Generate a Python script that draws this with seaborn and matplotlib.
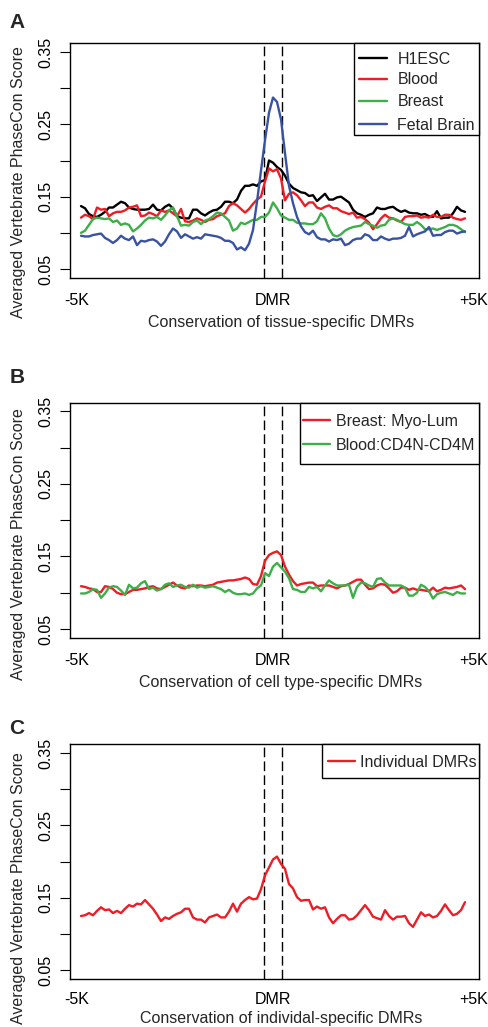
import numpy as np
import pandas as pd
import matplotlib
matplotlib.use("Agg")
import matplotlib.pyplot as plt
import seaborn as sns
from matplotlib.lines import Line2D
from matplotlib.patches import Rectangle

# ---------------- data (97 bins: -5K .. DMR .. +5K) ----------------
h1esc = [0.137, 0.134, 0.126, 0.123, 0.122, 0.125, 0.129, 0.135, 0.135, 0.139,
         0.143, 0.141, 0.135, 0.133, 0.132, 0.132, 0.132, 0.133, 0.139, 0.132,
         0.131, 0.136, 0.139, 0.134, 0.123, 0.121, 0.120, 0.120, 0.132, 0.132,
         0.127, 0.124, 0.128, 0.131, 0.132, 0.136, 0.143, 0.143, 0.141, 0.146,
         0.158, 0.165, 0.165, 0.167, 0.165, 0.171, 0.173, 0.200, 0.197, 0.191,
         0.187, 0.179, 0.168, 0.162, 0.159, 0.156, 0.155, 0.151, 0.152, 0.144,
         0.149, 0.154, 0.146, 0.146, 0.149, 0.150, 0.146, 0.142, 0.132, 0.127,
         0.125, 0.122, 0.125, 0.127, 0.135, 0.133, 0.133, 0.135, 0.136, 0.132,
         0.129, 0.131, 0.128, 0.127, 0.127, 0.125, 0.126, 0.123, 0.122, 0.130,
         0.120, 0.121, 0.121, 0.127, 0.136, 0.131, 0.129]
blood = [0.121, 0.125, 0.123, 0.119, 0.135, 0.132, 0.133, 0.123, 0.127, 0.129,
         0.129, 0.131, 0.135, 0.136, 0.138, 0.123, 0.124, 0.128, 0.126, 0.123,
         0.131, 0.129, 0.131, 0.127, 0.123, 0.133, 0.116, 0.115, 0.117, 0.120,
         0.118, 0.115, 0.118, 0.119, 0.123, 0.125, 0.127, 0.137, 0.141, 0.138,
         0.133, 0.128, 0.133, 0.140, 0.146, 0.150, 0.171, 0.189, 0.185, 0.188,
         0.175, 0.145, 0.154, 0.156, 0.152, 0.145, 0.137, 0.142, 0.142, 0.135,
         0.133, 0.136, 0.138, 0.134, 0.134, 0.130, 0.128, 0.126, 0.128, 0.121,
         0.122, 0.119, 0.114, 0.105, 0.112, 0.120, 0.125, 0.121, 0.120, 0.117,
         0.115, 0.122, 0.123, 0.123, 0.124, 0.121, 0.122, 0.121, 0.125, 0.122,
         0.122, 0.125, 0.125, 0.121, 0.119, 0.118, 0.120]
breast = [0.100, 0.103, 0.111, 0.119, 0.121, 0.120, 0.119, 0.120, 0.115, 0.117,
          0.111, 0.113, 0.111, 0.102, 0.106, 0.111, 0.117, 0.121, 0.120, 0.122,
          0.118, 0.124, 0.131, 0.135, 0.123, 0.110, 0.111, 0.110, 0.115, 0.117,
          0.112, 0.117, 0.119, 0.123, 0.128, 0.127, 0.122, 0.117, 0.103, 0.106,
          0.114, 0.112, 0.115, 0.118, 0.118, 0.122, 0.122, 0.128, 0.142, 0.134,
          0.124, 0.121, 0.118, 0.118, 0.114, 0.113, 0.113, 0.112, 0.112, 0.116,
          0.127, 0.120, 0.106, 0.097, 0.095, 0.098, 0.103, 0.106, 0.108, 0.109,
          0.110, 0.115, 0.112, 0.110, 0.107, 0.110, 0.111, 0.118, 0.120, 0.118,
          0.115, 0.112, 0.111, 0.111, 0.115, 0.111, 0.105, 0.105, 0.106, 0.104,
          0.106, 0.108, 0.111, 0.111, 0.109, 0.105, 0.101]
fetal_brain = [0.096, 0.095, 0.095, 0.097, 0.098, 0.099, 0.093, 0.090, 0.086, 0.090,
               0.096, 0.092, 0.090, 0.095, 0.083, 0.089, 0.088, 0.090, 0.091, 0.088,
               0.082, 0.088, 0.098, 0.106, 0.102, 0.093, 0.098, 0.095, 0.092, 0.094,
               0.092, 0.098, 0.097, 0.096, 0.095, 0.093, 0.089, 0.089, 0.086, 0.077,
               0.080, 0.076, 0.085, 0.104, 0.143, 0.186, 0.228, 0.266, 0.287, 0.281,
               0.257, 0.210, 0.165, 0.141, 0.122, 0.109, 0.101, 0.098, 0.103, 0.094,
               0.091, 0.091, 0.088, 0.091, 0.090, 0.092, 0.083, 0.085, 0.090, 0.092,
               0.092, 0.098, 0.096, 0.090, 0.090, 0.095, 0.092, 0.090, 0.092, 0.092,
               0.093, 0.096, 0.108, 0.095, 0.098, 0.100, 0.102, 0.108, 0.096, 0.097,
               0.097, 0.101, 0.103, 0.103, 0.099, 0.101, 0.102]
myo_lum = [0.109, 0.108, 0.106, 0.105, 0.101, 0.101, 0.109, 0.108, 0.105, 0.100,
           0.098, 0.098, 0.101, 0.104, 0.104, 0.105, 0.106, 0.108, 0.109, 0.106,
           0.105, 0.108, 0.111, 0.114, 0.110, 0.107, 0.106, 0.110, 0.109, 0.110,
           0.110, 0.109, 0.110, 0.111, 0.114, 0.115, 0.116, 0.117, 0.117, 0.118,
           0.119, 0.121, 0.119, 0.112, 0.111, 0.123, 0.144, 0.152, 0.155, 0.157,
           0.152, 0.136, 0.125, 0.116, 0.110, 0.112, 0.113, 0.114, 0.114, 0.109,
           0.110, 0.110, 0.110, 0.108, 0.106, 0.109, 0.110, 0.112, 0.115, 0.118,
           0.118, 0.111, 0.105, 0.106, 0.110, 0.112, 0.111, 0.106, 0.100, 0.102,
           0.107, 0.107, 0.104, 0.106, 0.104, 0.104, 0.103, 0.102, 0.107, 0.102,
           0.104, 0.107, 0.106, 0.107, 0.108, 0.110, 0.105]
cd4n_cd4m = [0.099, 0.099, 0.101, 0.105, 0.104, 0.093, 0.099, 0.107, 0.109, 0.108,
             0.103, 0.097, 0.111, 0.106, 0.107, 0.113, 0.116, 0.105, 0.107, 0.103,
             0.105, 0.111, 0.113, 0.108, 0.110, 0.111, 0.108, 0.107, 0.111, 0.107,
             0.109, 0.107, 0.108, 0.109, 0.107, 0.105, 0.101, 0.104, 0.100, 0.098,
             0.098, 0.099, 0.097, 0.099, 0.106, 0.110, 0.127, 0.123, 0.136, 0.141,
             0.135, 0.129, 0.120, 0.105, 0.104, 0.101, 0.101, 0.108, 0.106, 0.108,
             0.102, 0.110, 0.117, 0.113, 0.110, 0.110, 0.110, 0.111, 0.093, 0.108,
             0.114, 0.113, 0.110, 0.108, 0.119, 0.120, 0.114, 0.110, 0.110, 0.110,
             0.110, 0.107, 0.096, 0.096, 0.100, 0.111, 0.108, 0.102, 0.092, 0.098,
             0.100, 0.101, 0.099, 0.097, 0.101, 0.099, 0.099]
individual = [0.125, 0.126, 0.129, 0.126, 0.132, 0.137, 0.133, 0.134, 0.129, 0.132,
              0.129, 0.135, 0.140, 0.138, 0.142, 0.141, 0.147, 0.141, 0.135, 0.127,
              0.118, 0.123, 0.121, 0.125, 0.128, 0.130, 0.135, 0.135, 0.123, 0.120,
              0.120, 0.116, 0.123, 0.125, 0.127, 0.123, 0.123, 0.131, 0.142, 0.131,
              0.142, 0.147, 0.151, 0.148, 0.149, 0.162, 0.181, 0.192, 0.203, 0.207,
              0.197, 0.190, 0.169, 0.163, 0.151, 0.146, 0.147, 0.147, 0.134, 0.138,
              0.135, 0.137, 0.123, 0.115, 0.121, 0.126, 0.126, 0.120, 0.121, 0.126,
              0.133, 0.140, 0.133, 0.124, 0.122, 0.120, 0.133, 0.125, 0.120, 0.124,
              0.124, 0.125, 0.115, 0.110, 0.120, 0.130, 0.125, 0.127, 0.123, 0.125,
              0.132, 0.141, 0.133, 0.126, 0.128, 0.133, 0.144]

x_tick_labels = ["-5K", "DMR", "+5K"]
y_ticks = [0.05, 0.10, 0.15, 0.20, 0.25, 0.30, 0.35]
y_tick_labels = ["0.05", "", "0.15", "", "0.25", "", "0.35"]
y_label = "Averaged Vertebrate PhaseCon Score"

panels = [
    dict(letter="A", series=[("H1ESC", h1esc), ("Blood", blood), ("Breast", breast),
                             ("Fetal Brain", fetal_brain)],
         colors=["#000000", "#EE1C25", "#3DAE49", "#3A52A3"],
         xlabel="Conservation of tissue-specific DMRs"),
    dict(letter="B", series=[("Breast: Myo-Lum", myo_lum), ("Blood:CD4N-CD4M", cd4n_cd4m)],
         colors=["#EE1C25", "#3DAE49"],
         xlabel="Conservation of cell type-specific DMRs"),
    dict(letter="C", series=[("Individual DMRs", individual)],
         colors=["#EE1C25"],
         xlabel="Conservation of individal-specific DMRs"),
]

# ---------------- layout (pixels) ----------------
W, H = 489, 1027
FS = 11.5
sns.set_theme(style="white")
plt.rcParams["font.family"] = ["Liberation Sans", "DejaVu Sans"]

fig = plt.figure(figsize=(W / 100, H / 100), dpi=100)

def fx(x):
    return x / W

def fy(y):
    return 1 - y / H

layout = [
    dict(box=(70, 43.3, 479, 277.7), letter_base=28.3, xlab_base=326.5, ylab_c=182.5, xpad=11.2,
         leg_box=(354, 43.3, 479, 135.0), leg_rows=[58.3, 78.7, 100.7, 124.3],
         leg_handle=(359.3, 386.7), leg_text=397.5),
    dict(box=(70, 402.7, 479, 637.7), letter_base=383.3, xlab_base=686.5, ylab_c=543.8, xpad=11.2,
         leg_box=(300, 402.7, 479, 464.0), leg_rows=[420.0, 444.0],
         leg_handle=(302.7, 330.0), leg_text=336.0),
    dict(box=(70, 744.3, 479, 979.0), letter_base=734.5, xlab_base=1022.5, ylab_c=888.5, xpad=9.2,
         leg_box=(322, 744.3, 479, 778.3), leg_rows=[761.0],
         leg_handle=(328.3, 355.0), leg_text=360.5),
]

DMR_START, DMR_END = 45.75, 50.17
X_TICK_POS = [-1.0, 47.9, 98.25]
XLIM = (-2.75, 99.5)
YLIM = (0.038, 0.362)

for p, L in zip(panels, layout):
    x0, y0, x1, y1 = L["box"]
    ax = fig.add_axes([fx(x0), fy(y1), (x1 - x0) / W, (y1 - y0) / H])

    frames = []
    for name, vals in p["series"]:
        frames.append(pd.DataFrame({"bin": np.arange(len(vals)), "score": vals, "series": name}))
    df = pd.concat(frames, ignore_index=True)
    names = [s[0] for s in p["series"]]
    sns.lineplot(data=df, x="bin", y="score", hue="series", hue_order=names,
                 palette=dict(zip(names, p["colors"])), estimator=None, sort=True,
                 linewidth=1.7, legend=False, ax=ax)

    for xv in (DMR_START, DMR_END):
        ax.axvline(xv, color="black", lw=1.0, ls=(0, (7, 3)), zorder=1)

    ax.set_xlim(*XLIM)
    ax.set_ylim(*YLIM)
    ax.set_xlabel("")
    ax.set_ylabel("")
    ax.set_xticks(X_TICK_POS)
    ax.set_xticklabels(x_tick_labels, fontsize=FS)
    ax.set_yticks(y_ticks)
    ax.set_yticklabels(y_tick_labels, fontsize=FS, rotation=90, va="center")
    ax.tick_params(axis="x", length=0, pad=L["xpad"], colors="black")
    ax.tick_params(axis="y", length=7.2, width=0.8, direction="out", pad=4.6,
                   colors="black", left=True)
    for s in ax.spines.values():
        s.set_color("black")
        s.set_linewidth(1.0)
    ax.set_facecolor("white")

    # panel letter, axis titles
    fig.text(fx(9.5), fy(L["letter_base"]), p["letter"], fontsize=15, fontweight="bold",
             ha="left", va="baseline")
    fig.text(fx(281), fy(L["xlab_base"]), p["xlabel"], fontsize=FS, ha="center", va="baseline")
    fig.text(fx(18.5), fy(L["ylab_c"]), y_label, fontsize=FS, rotation=90,
             ha="center", va="center")

    # legend box
    lx0, ly0, lx1, ly1 = L["leg_box"]
    fig.add_artist(Rectangle((fx(lx0), fy(ly1)), (lx1 - lx0) / W, (ly1 - ly0) / H,
                             transform=fig.transFigure, facecolor="white",
                             edgecolor="black", lw=1.0, zorder=5))
    hx0, hx1 = L["leg_handle"]
    for (name, _), col, ry in zip(p["series"], p["colors"], L["leg_rows"]):
        fig.add_artist(Line2D([fx(hx0), fx(hx1)], [fy(ry), fy(ry)], transform=fig.transFigure,
                              color=col, lw=1.7, zorder=6))
        fig.text(fx(L["leg_text"]), fy(ry + 5.7), name, fontsize=FS, ha="left",
                 va="baseline", zorder=6)

fig.savefig("out.png", dpi=100, facecolor="white")
